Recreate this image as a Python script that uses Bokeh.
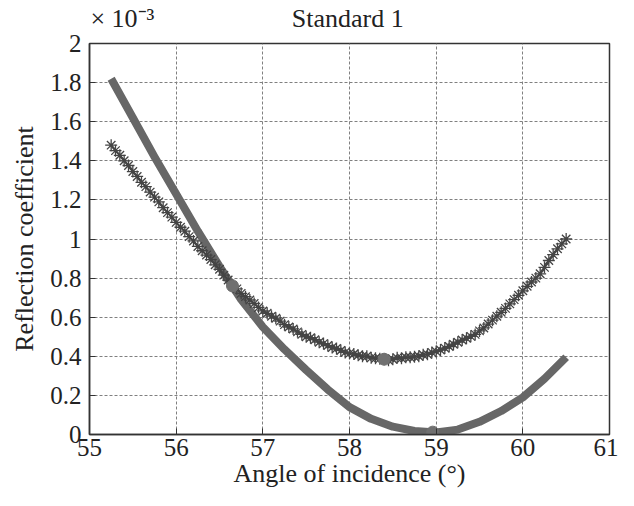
from bokeh.plotting import figure
from bokeh.models import Range1d, FixedTicker, LinearAxis
from bokeh.embed import file_html
from bokeh.resources import INLINE

# ---- data ----
star_x = [55.25, 55.30, 55.35, 55.40, 55.45, 55.50, 55.55, 55.60, 55.65, 55.70, 55.75, 55.80,
          55.85, 55.90, 55.95, 56.00, 56.05, 56.10, 56.15, 56.20, 56.25, 56.30, 56.35, 56.40,
          56.45, 56.50, 56.55, 56.60, 56.65, 56.70, 56.75, 56.80, 56.85, 56.90, 56.95, 57.00,
          57.05, 57.10, 57.15, 57.20, 57.25, 57.30, 57.35, 57.40, 57.45, 57.50, 57.55, 57.60,
          57.65, 57.70, 57.75, 57.80, 57.85, 57.90, 57.95, 58.00, 58.05, 58.10, 58.15, 58.20,
          58.25, 58.30, 58.35, 58.40, 58.45, 58.50, 58.55, 58.60, 58.65, 58.70, 58.75, 58.80,
          58.85, 58.90, 58.95, 59.00, 59.05, 59.10, 59.15, 59.20, 59.25, 59.30, 59.35, 59.40,
          59.45, 59.50, 59.55, 59.60, 59.65, 59.70, 59.75, 59.80, 59.85, 59.90, 59.95, 60.00,
          60.05, 60.10, 60.15, 60.20, 60.25, 60.30, 60.35, 60.40, 60.45, 60.50]
star_y = [1.480, 1.452, 1.428, 1.400, 1.376, 1.345, 1.320, 1.290, 1.268, 1.240, 1.214, 1.190,
          1.160, 1.135, 1.112, 1.085, 1.060, 1.040, 1.012, 0.990, 0.962, 0.940, 0.918, 0.895,
          0.868, 0.845, 0.815, 0.790, 0.762, 0.745, 0.722, 0.705, 0.688, 0.670, 0.650, 0.632,
          0.620, 0.605, 0.595, 0.580, 0.562, 0.550, 0.540, 0.525, 0.512, 0.500, 0.495, 0.485,
          0.472, 0.465, 0.455, 0.445, 0.440, 0.430, 0.420, 0.415, 0.412, 0.405, 0.400, 0.400,
          0.392, 0.390, 0.388, 0.385, 0.380, 0.385, 0.392, 0.390, 0.395, 0.395, 0.398, 0.400,
          0.408, 0.410, 0.420, 0.425, 0.432, 0.442, 0.450, 0.462, 0.472, 0.483, 0.492, 0.502,
          0.512, 0.530, 0.545, 0.565, 0.585, 0.605, 0.625, 0.645, 0.668, 0.690, 0.712, 0.735,
          0.758, 0.780, 0.800, 0.822, 0.855, 0.890, 0.920, 0.950, 0.975, 1.000]

thick_x = [55.25, 55.5, 55.75, 56.0, 56.25, 56.5, 56.75, 57.0, 57.25, 57.5, 57.75, 58.0,
           58.25, 58.5, 58.75, 59.0, 59.25, 59.5, 59.75, 60.0, 60.25, 60.5]
thick_y = [1.82, 1.62, 1.42, 1.23, 1.04, 0.86, 0.69, 0.55, 0.435, 0.33, 0.23, 0.14,
           0.08, 0.04, 0.018, 0.01, 0.025, 0.065, 0.12, 0.19, 0.285, 0.395]

dot_x = [56.65, 58.4, 58.96]
dot_y = [0.76, 0.385, 0.012]

x_ticks = [55, 56, 57, 58, 59, 60, 61]
y_ticks = [0, 0.2, 0.4, 0.6, 0.8, 1.0, 1.2, 1.4, 1.6, 1.8, 2.0]
y_tick_labels = ["0", "0.2", "0.4", "0.6", "0.8", "1", "1.2", "1.4", "1.6", "1.8", "2"]

# texts above the frame: exponent marker and title (placed at these x positions)
top_pos = [55.38, 57.98]
top_texts = ["× 10⁻³", "Standard 1"]

FONT = "Liberation Serif"
TXT = "#222222"

p = figure(width=618, height=490, x_range=Range1d(55, 61), y_range=Range1d(0, 2),
           output_backend="svg", toolbar_location=None,
           min_border_left=89, min_border_right=9, min_border_top=42, min_border_bottom=54)
p.background_fill_color = "white"
p.border_fill_color = "white"
p.outline_line_color = "#333333"
p.outline_line_width = 1.5

for ax in (p.xaxis[0], p.yaxis[0]):
    ax.major_label_text_font = FONT
    ax.major_label_text_font_size = "25px"
    ax.major_label_text_color = TXT
    ax.axis_label_text_font = FONT
    ax.axis_label_text_font_size = "26px"
    ax.axis_label_text_font_style = "normal"
    ax.axis_label_text_color = TXT
    ax.major_tick_in = 6
    ax.major_tick_out = 0
    ax.minor_tick_line_color = None
    ax.axis_line_color = "#333333"
    ax.axis_line_width = 1.5
    ax.major_tick_line_color = "#333333"

p.xaxis[0].ticker = FixedTicker(ticks=x_ticks)
p.yaxis[0].ticker = FixedTicker(ticks=y_ticks)
p.yaxis[0].major_label_overrides = {t: l for t, l in zip(y_ticks, y_tick_labels)}
p.xaxis[0].axis_label = "Angle of incidence (°)"
p.yaxis[0].axis_label = "Reflection coefficient"
p.xaxis[0].major_label_standoff = 4
p.yaxis[0].major_label_standoff = 8
p.xaxis[0].axis_label_standoff = 0
p.yaxis[0].axis_label_standoff = 8

# top axis carrying the exponent marker and the title as labels
top = LinearAxis(ticker=FixedTicker(ticks=top_pos),
                 major_label_overrides={t: s for t, s in zip(top_pos, top_texts)},
                 major_label_text_font=FONT, major_label_text_font_size="26px",
                 major_label_text_color=TXT, major_label_standoff=5,
                 major_tick_line_color=None, minor_tick_line_color=None,
                 axis_line_color=None)
p.add_layout(top, "above")

p.grid.grid_line_color = "#808080"
p.grid.grid_line_dash = "3 2"
p.grid.grid_line_width = 1
p.xgrid.ticker = FixedTicker(ticks=x_ticks)
p.ygrid.ticker = FixedTicker(ticks=y_ticks)

# thick curve
p.line(thick_x, thick_y, line_color="#676767", line_width=8, line_join="round")
# starred curve
p.line(star_x, star_y, line_color="#484848", line_width=2)
p.scatter(star_x, star_y, marker="asterisk", size=12, line_color="#444444", line_width=1.3)
# highlight dots
p.scatter(dot_x, dot_y, marker="circle", size=12, fill_color="#707070", line_color="#707070")

open("out.html", "w").write(file_html(p, INLINE))
